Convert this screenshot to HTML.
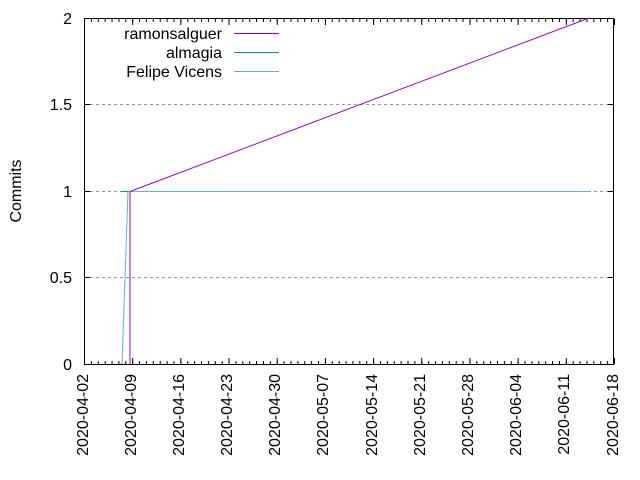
<!DOCTYPE html>
<html><head><style>body{margin:0;background:#fff}svg{display:block}</style></head><body>
<svg width="640" height="480" xmlns="http://www.w3.org/2000/svg" font-family="Liberation Sans, sans-serif" font-size="16">
<defs>
<pattern id="mn" patternUnits="userSpaceOnUse" x="84" y="0" width="6.8831" height="480"><rect x="0" y="0" width="1" height="480" fill="#000"/></pattern>
<pattern id="mj" patternUnits="userSpaceOnUse" x="84" y="0" width="48.1818" height="480"><rect x="0" y="0" width="1" height="480" fill="#000"/></pattern>
</defs>
<g stroke="#999" stroke-dasharray="3,3" stroke-width="1">
<line x1="84" y1="277.5" x2="614" y2="277.5"/>
<line x1="84" y1="191.5" x2="614" y2="191.5"/>
<line x1="84" y1="104.5" x2="614" y2="104.5"/>
</g>
<rect x="84" y="361" width="531" height="3" fill="url(#mn)"/>
<rect x="84" y="19" width="531" height="3" fill="url(#mn)"/>
<rect x="84" y="358" width="531" height="6" fill="url(#mj)"/>
<rect x="84" y="19" width="531" height="6" fill="url(#mj)"/>
<g stroke="#000">
<line x1="84" y1="277.5" x2="90" y2="277.5"/><line x1="614" y1="277.5" x2="608" y2="277.5"/>
<line x1="84" y1="191.5" x2="90" y2="191.5"/><line x1="614" y1="191.5" x2="608" y2="191.5"/>
<line x1="84" y1="104.5" x2="90" y2="104.5"/><line x1="614" y1="104.5" x2="608" y2="104.5"/>
</g>
<rect x="84.5" y="18.5" width="529" height="346" fill="none" stroke="#000"/>
<g text-anchor="end">
<text x="72" y="370">0</text>
<text x="72" y="283">0.5</text>
<text x="72" y="197">1</text>
<text x="72" y="110">1.5</text>
<text x="72" y="24">2</text>
</g>
<text transform="translate(21,191) rotate(-90)" text-anchor="middle">Commits</text>
<g text-anchor="end">
<text transform="translate(88,374) rotate(-90)">2020-04-02</text>
<text transform="translate(136,374) rotate(-90)">2020-04-09</text>
<text transform="translate(184,374) rotate(-90)">2020-04-16</text>
<text transform="translate(232,374) rotate(-90)">2020-04-23</text>
<text transform="translate(280,374) rotate(-90)">2020-04-30</text>
<text transform="translate(328,374) rotate(-90)">2020-05-07</text>
<text transform="translate(377,374) rotate(-90)">2020-05-14</text>
<text transform="translate(425,374) rotate(-90)">2020-05-21</text>
<text transform="translate(473,374) rotate(-90)">2020-05-28</text>
<text transform="translate(521,374) rotate(-90)">2020-06-04</text>
<text transform="translate(569,374) rotate(-90)">2020-06-11</text>
<text transform="translate(618,374) rotate(-90)">2020-06-18</text>
</g>
<polyline points="122,364 128,191.5 589,191.5" fill="none" stroke="#56b4e9"/>
<line x1="121" y1="191.5" x2="128" y2="191.5" stroke="#009e73"/>
<polyline points="130,364 130,191.5 589,18" fill="none" stroke="#9400d3"/>
<g text-anchor="end">
<text x="222" y="39">ramonsalguer</text>
<text x="222" y="58">almagia</text>
<text x="222" y="77">Felipe Vicens</text>
</g>
<line x1="234" y1="33.5" x2="279" y2="33.5" stroke="#9400d3"/>
<line x1="234" y1="52.5" x2="279" y2="52.5" stroke="#009e73"/>
<line x1="234" y1="71.5" x2="279" y2="71.5" stroke="#56b4e9"/>
</svg>
</body></html>
